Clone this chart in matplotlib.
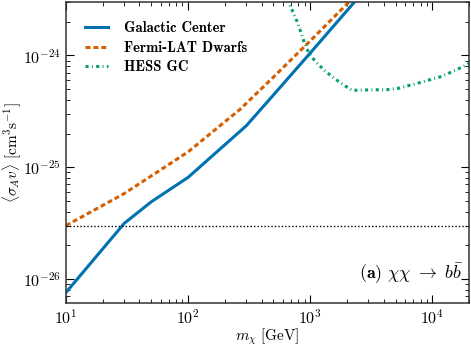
import numpy as np
import matplotlib
matplotlib.use('Agg')
import matplotlib.pyplot as plt
from matplotlib.ticker import FuncFormatter, FixedLocator
from matplotlib.font_manager import FontProperties

plt.rcParams['mathtext.fontset'] = 'cm'
plt.rcParams['axes.unicode_minus'] = False

# Galactic Center limit
gc_m = [10, 30, 50, 100, 300, 470, 1000, 3000]
gc_sv = [7.55e-27, 3.14e-26, 4.9e-26, 8.1e-26, 2.35e-25, 4.1e-25, 1.05e-24, 4.2e-24]

# Fermi-LAT dwarfs limit
dw_m = [10, 30, 100, 267, 500, 1000, 1820, 3000]
dw_sv = [3.0e-26, 5.8e-26, 1.37e-25, 3.3e-25, 6.4e-25, 1.35e-24, 2.6e-24, 4.5e-24]

# HESS GC limit
hs_m = [650, 686, 782, 840, 898, 981, 1120, 1327, 1553, 1852, 2198, 3365,
        4200, 5240, 7860, 12000, 18000, 20000]
hs_sv = [3.5e-24, 2.79e-24, 2.0e-24, 1.6e-24, 1.29e-24, 1.035e-24, 8.66e-25,
         7.24e-25, 6.3e-25, 5.5e-25, 4.87e-25, 4.93e-25, 4.93e-25, 5.07e-25,
         5.7e-25, 6.5e-25, 7.97e-25, 8.5e-25]

relic = 3e-26

xticks = [1e1, 1e2, 1e3, 1e4]
yticks = [1e-26, 1e-25, 1e-24]

fig = plt.figure(figsize=(4.71, 3.53), dpi=100)
ax = fig.add_axes([0.140, 0.142, 0.856, 0.852])

ax.plot(gc_m, gc_sv, color='#0072B2', lw=2.2, label='Galactic Center')
ax.plot(dw_m, dw_sv, color='#D55E00', lw=2.2, ls=(0, (1.6, 1.0)),
        label='Fermi-LAT Dwarfs')
ax.plot(hs_m, hs_sv, color='#009E73', lw=2.2, ls=(0, (1.0, 1.1, 0.3, 1.1)),
        label='HESS GC')
ax.axhline(relic, color='black', lw=1.0, ls=(0, (1, 1.5)))

ax.set_xscale('log')
ax.set_yscale('log')
ax.set_xlim(10, 2e4)
ax.set_ylim(6.1e-27, 3e-24)

fmt = FuncFormatter(lambda v, p: r'$\mathbf{10^{%d}}$' % int(round(np.log10(v))))
ax.xaxis.set_major_locator(FixedLocator(xticks))
ax.yaxis.set_major_locator(FixedLocator(yticks))
ax.xaxis.set_major_formatter(fmt)
ax.yaxis.set_major_formatter(fmt)
ax.tick_params(which='both', direction='in', top=True, right=True, labelsize=11.5)
ax.tick_params(which='major', length=6, width=0.8)
ax.tick_params(which='minor', length=3, width=0.6)
for s in ax.spines.values():
    s.set_linewidth(1.1)
    s.set_color('#333333')

ax.set_xlabel(r'$m_\chi\ [\mathrm{GeV}]$', fontsize=11, labelpad=0)
ax.set_ylabel(r'$\langle \sigma_A v \rangle\ [\mathrm{cm}^3\mathrm{s}^{-1}]$',
              fontsize=11, labelpad=0)

leg = ax.legend(loc='upper left', frameon=False, handlelength=1.6,
                handletextpad=1.1,
                prop=FontProperties(family='cmb10', size=10.5),
                borderaxespad=0.9, labelspacing=0.38)

ax.text(0.985, 0.055, r'$\mathbf{(a)}\ \chi\chi\ \rightarrow\ b\bar{b}$',
        transform=ax.transAxes, ha='right', va='bottom', fontsize=13)

fig.savefig('out.png', dpi=100)
